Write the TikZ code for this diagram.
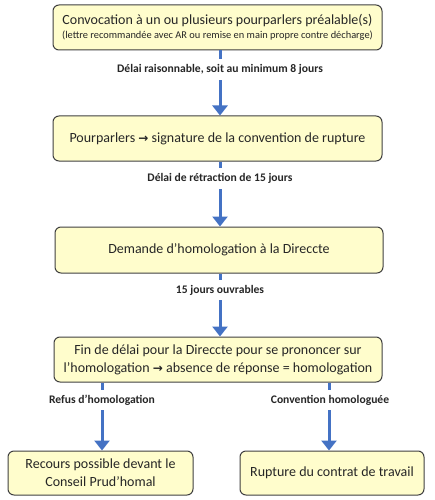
\documentclass[tikz,border=0pt]{standalone}
\usepackage{fontspec}
\setmainfont{Carlito}
\newfontfamily\symfont{DejaVu Sans}
\usetikzlibrary{arrows.meta}
\definecolor{boxfill}{HTML}{FFFDCC}
\definecolor{boxline}{HTML}{404040}
\definecolor{arrblue}{HTML}{4472C4}
\definecolor{txt}{HTML}{262626}
\newcommand{\rarr}{{\symfont\bfseries\fontsize{12}{14}\selectfont →}}
\tikzset{
  box/.style={draw=boxline, line width=1pt, fill=boxfill, rounded corners=6pt, align=center,
    text=txt, font=\fontsize{14}{18}\selectfont, inner sep=2pt},
  arr/.style={draw=arrblue, line width=3pt, -{Triangle[width=15pt,length=10pt]}},
  lab/.style={fill=white, text=txt, font=\bfseries\fontsize{11.6}{13}\selectfont, inner xsep=3pt, inner ysep=5pt}
}
\begin{document}
\begin{tikzpicture}[x=1pt,y=-1pt]
\useasboundingbox[fill=white] (0,0) rectangle (434,500);
\node[box, minimum width=329pt, minimum height=45pt] (b1) at (217.5,27.5)
  {Convocation à un ou plusieurs pourparlers préalable(s)\\[-4pt]{\fontsize{10.4}{12}\selectfont (lettre recommandée avec AR ou remise en main propre contre décharge)}};
\node[box, minimum width=329pt, minimum height=45pt] (b2) at (217.5,138.5)
  {Pourparlers \rarr{} signature de la convention de rupture};
\node[box, minimum width=328pt, minimum height=46pt] (b3) at (219,250)
  {Demande d’homologation à la Direccte};
\node[box, minimum width=328pt, minimum height=45pt] (b4) at (218,359.5)
  {Fin de délai pour la Direccte pour se prononcer sur\\ l’homologation \rarr{} absence de réponse = homologation};
\node[box, minimum width=185pt, minimum height=44pt] (b5) at (100.5,473)
  {Recours possible devant le\\ Conseil Prud’homal};
\node[box, minimum width=184pt, minimum height=44pt] (b6) at (332,473)
  {Rupture du contrat de travail};

\coordinate (xm) at (220,0);
\coordinate (xl) at (102,0);
\coordinate (xr) at (329,0);

\draw[arr] (b1.south -| xm) -- (b2.north -| xm);
\draw[arr] (b2.south -| xm) -- (b3.north -| xm);
\draw[arr] (b3.south -| xm) -- (b4.north -| xm);
\draw[arr] (b4.south -| xl) -- (b5.north -| xl);
\draw[arr] (b4.south -| xr) -- (b6.north -| xr);

\node[lab] (l1) at (220,69.5) {Délai raisonnable, soit au minimum 8 jours};
\node[lab] (l2) at (220,178.5) {Délai de rétraction de 15 jours};
\node[lab] (l3) at (220,290) {15 jours ouvrables};
\node[lab] (l4) at (102,400) {Refus d’homologation};
\node[lab] (l5) at (330,400) {Convention homologuée};
\end{tikzpicture}
\end{document}
